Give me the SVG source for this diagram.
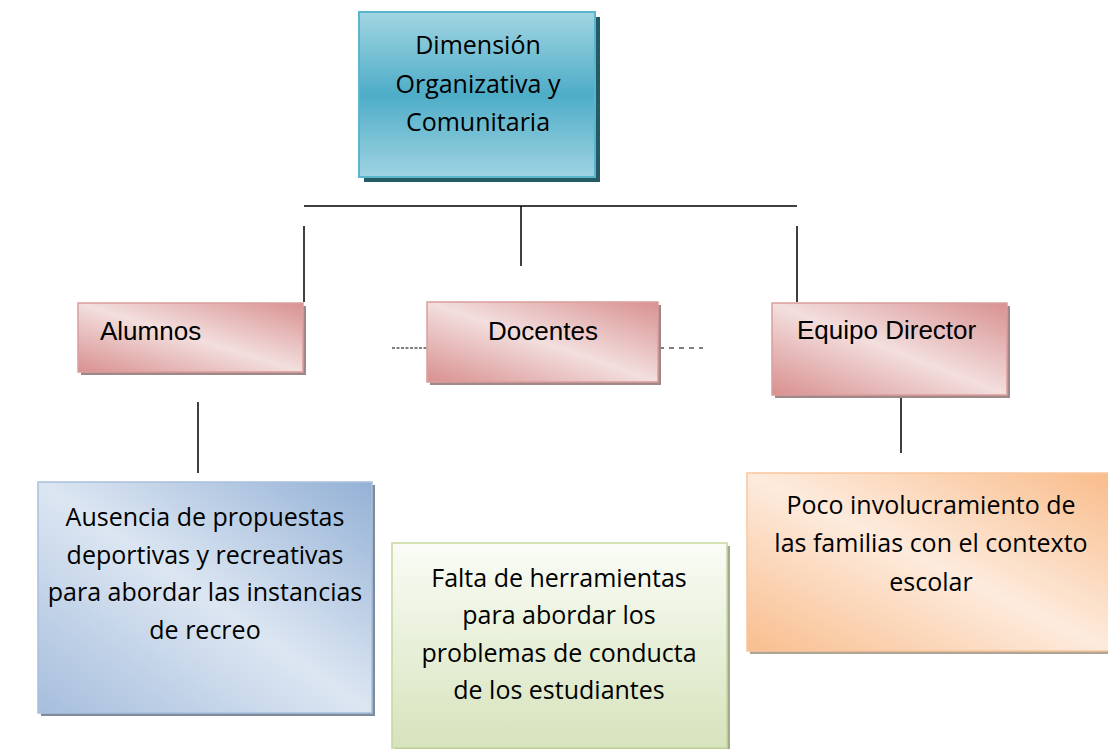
<svg xmlns="http://www.w3.org/2000/svg" width="1108" height="749" viewBox="0 0 1108 749">
<style>
.cal{font-family:"Open Sans","Noto Sans",sans-serif;fill:#000;text-anchor:middle;font-size:25px}
.ar{font-family:"Liberation Sans",Arial,sans-serif;fill:#000;font-size:26px}
.ln{stroke:#000;stroke-width:1.5;fill:none}
</style>
<defs>
<linearGradient id="gTop" x1="0" y1="0" x2="0" y2="1">
<stop offset="0" stop-color="#A2D5E3"/><stop offset="0.5" stop-color="#4EADC7"/><stop offset="1" stop-color="#9FD3E2"/>
</linearGradient>
<linearGradient id="gPink" x1="1" y1="0" x2="0" y2="1">
<stop offset="0" stop-color="#D89190"/><stop offset="0.5" stop-color="#F3DEDE"/><stop offset="1" stop-color="#D8908F"/>
</linearGradient>
<linearGradient id="gBlue" x1="1" y1="0" x2="0" y2="1">
<stop offset="0" stop-color="#94B1D6"/><stop offset="0.5" stop-color="#DCE6F2"/><stop offset="1" stop-color="#A6BEDD"/>
</linearGradient>
<linearGradient id="gGreen" x1="0" y1="0" x2="0" y2="1">
<stop offset="0" stop-color="#FAFCF6"/><stop offset="1" stop-color="#D6E3BC"/>
</linearGradient>
<linearGradient id="gOrange" x1="1" y1="0" x2="0" y2="1">
<stop offset="0" stop-color="#F9BC8A"/><stop offset="0.5" stop-color="#FDEBDD"/><stop offset="1" stop-color="#F9BE8E"/>
</linearGradient>
</defs>
<rect width="1108" height="749" fill="#fff"/>
<g id="connectors">
<line class="ln" x1="304" y1="206" x2="797" y2="206"/>
<line class="ln" x1="304" y1="226" x2="304" y2="302"/>
<line class="ln" x1="521" y1="206" x2="521" y2="266"/>
<line class="ln" x1="797" y1="226" x2="797" y2="302"/>
<line class="ln" x1="198" y1="402" x2="198" y2="473"/>
<line class="ln" x1="901" y1="396" x2="901" y2="453"/>
<line x1="392" y1="348" x2="427" y2="348" stroke="#000" stroke-width="1" stroke-dasharray="3,1.5"/>
<line x1="659" y1="348" x2="703" y2="348" stroke="#000" stroke-width="1" stroke-dasharray="5,5"/>
</g>
<g id="top">
<rect x="364" y="17" width="236" height="165" fill="#245B67"/>
<rect x="359" y="12" width="236" height="165" fill="url(#gTop)" stroke="#5AB6CD" stroke-width="2"/>
<text class="cal" x="478" y="54">Dimensión</text>
<text class="cal" x="478" y="93">Organizativa y</text>
<text class="cal" x="478" y="131">Comunitaria</text>
</g>
<g id="alumnos">
<rect x="81" y="306" width="225" height="69" fill="#A08888"/>
<rect x="78" y="303" width="225" height="69" fill="url(#gPink)" stroke="#DA9E9D" stroke-width="1.5"/>
<text class="ar" x="100" y="340">Alumnos</text>
</g>
<g id="docentes">
<rect x="430" y="305" width="231" height="80" fill="#A08888"/>
<rect x="427" y="302" width="231" height="80" fill="url(#gPink)" stroke="#DA9E9D" stroke-width="1.5"/>
<text class="ar" x="543" y="340" text-anchor="middle">Docentes</text>
</g>
<g id="equipo">
<rect x="775" y="306" width="235" height="92" fill="#A08888"/>
<rect x="772" y="303" width="235" height="92" fill="url(#gPink)" stroke="#DA9E9D" stroke-width="1.5"/>
<text class="ar" x="797" y="339">Equipo Director</text>
</g>
<g id="ausencia">
<rect x="41" y="485" width="334" height="231" fill="#7E8C9E"/>
<rect x="38" y="482" width="334" height="231" fill="url(#gBlue)" stroke="#A9C0DC" stroke-width="1.5"/>
<text class="cal" x="205" y="526">Ausencia de propuestas</text>
<text class="cal" x="205" y="564">deportivas y recreativas</text>
<text class="cal" x="205" y="601">para abordar las instancias</text>
<text class="cal" x="205" y="639">de recreo</text>
</g>
<g id="falta">
<rect x="395" y="546" width="335" height="205" fill="#A3AA90"/>
<rect x="392" y="543" width="335" height="205" fill="url(#gGreen)" stroke="#C6D89F" stroke-width="1.5"/>
<text class="cal" x="559" y="587">Falta de herramientas</text>
<text class="cal" x="559" y="624">para abordar los</text>
<text class="cal" x="559" y="662">problemas de conducta</text>
<text class="cal" x="559" y="699">de los estudiantes</text>
</g>
<g id="poco">
<rect x="750" y="476" width="360" height="178" fill="#B0A595"/>
<rect x="747" y="473" width="365" height="178" fill="url(#gOrange)" stroke="#F9C69D" stroke-width="1.5"/>
<text class="cal" x="931" y="514">Poco involucramiento de</text>
<text class="cal" x="931" y="552">las familias con el contexto</text>
<text class="cal" x="931" y="591">escolar</text>
</g>
</svg>
